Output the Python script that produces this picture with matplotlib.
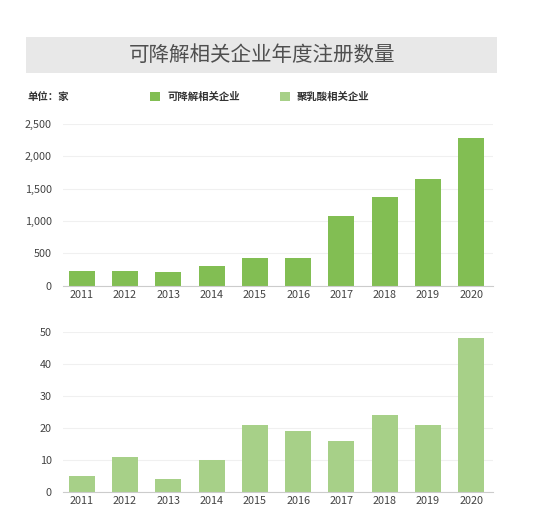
import matplotlib
matplotlib.use("Agg")
import matplotlib.pyplot as plt
from matplotlib.patches import Rectangle

plt.rcParams['font.family'] = ['Noto Sans CJK SC', 'DejaVu Sans']

years = ['2011', '2012', '2013', '2014', '2015', '2016', '2017', '2018', '2019', '2020']
degradable = [230, 230, 210, 310, 430, 430, 1070, 1370, 1650, 2280]
pla = [5, 11, 4, 10, 21, 19, 16, 24, 21, 48]

title = '可降解相关企业年度注册数量'
unit_label = '单位：家'
series_names = ['可降解相关企业', '聚乳酸相关企业']
colors = ['#82be53', '#a7d088']

W, H = 550, 514
fig = plt.figure(figsize=(W / 100, H / 100), dpi=100)
fig.patch.set_facecolor('white')

def fx(x):
    return x / W

def fy(y):
    return 1 - y / H

# Title box
fig.patches.append(Rectangle((fx(26), fy(72.7)), fx(497) - fx(26), fy(36.7) - fy(72.7),
                             transform=fig.transFigure, facecolor='#e8e8e8', edgecolor='none'))
fig.text(fx(262), fy(55), title, ha='center', va='center', fontsize=14.8, color='#4f4f4f')

# Unit and legend
fig.text(fx(27), fy(96.5), unit_label, ha='left', va='center', fontsize=7.5, color='#333333',
         fontweight='bold')
leg_x = [150, 280]
for lx, name, c in zip(leg_x, series_names, colors):
    fig.patches.append(Rectangle((fx(lx), fy(101)), fx(10), 9 / H,
                                 transform=fig.transFigure, facecolor=c, edgecolor='none'))
    fig.text(fx(lx + 17), fy(96.5), name, ha='left', va='center', fontsize=7.5, color='#333333',
             fontweight='bold')

def style_axes(ax, ymax, step, fmt):
    ax.set_ylim(0, ymax)
    ax.set_xlim(-0.43, 9.5)
    ticks = list(range(0, ymax + 1, step))
    ax.set_yticks(ticks)
    ax.set_yticklabels([fmt(t) for t in ticks])
    ax.set_xticks(range(len(years)))
    ax.set_xticklabels(years)
    for s in ['top', 'right', 'left']:
        ax.spines[s].set_visible(False)
    ax.spines['bottom'].set_color('#cccccc')
    ax.spines['bottom'].set_linewidth(0.8)
    ax.tick_params(axis='both', length=0, labelsize=7.8, colors='#444444')
    ax.tick_params(axis='y', pad=8)
    ax.tick_params(axis='x', pad=3)
    ax.grid(axis='y', color='#f0f0f0', linewidth=0.8)
    ax.set_axisbelow(True)
    ax.set_facecolor('none')

ax1 = fig.add_axes([fx(63), fy(285.7), fx(493) - fx(63), fy(124) - fy(285.7)])
ax1.bar(range(len(years)), degradable, width=0.6, color=colors[0])
style_axes(ax1, 2500, 500, lambda v: f'{v:,}')

ax2 = fig.add_axes([fx(63), fy(492), fx(493) - fx(63), fy(331.7) - fy(492)])
ax2.bar(range(len(years)), pla, width=0.6, color=colors[1])
style_axes(ax2, 50, 10, lambda v: f'{v}')

fig.savefig('out.png', dpi=100, facecolor='white')
